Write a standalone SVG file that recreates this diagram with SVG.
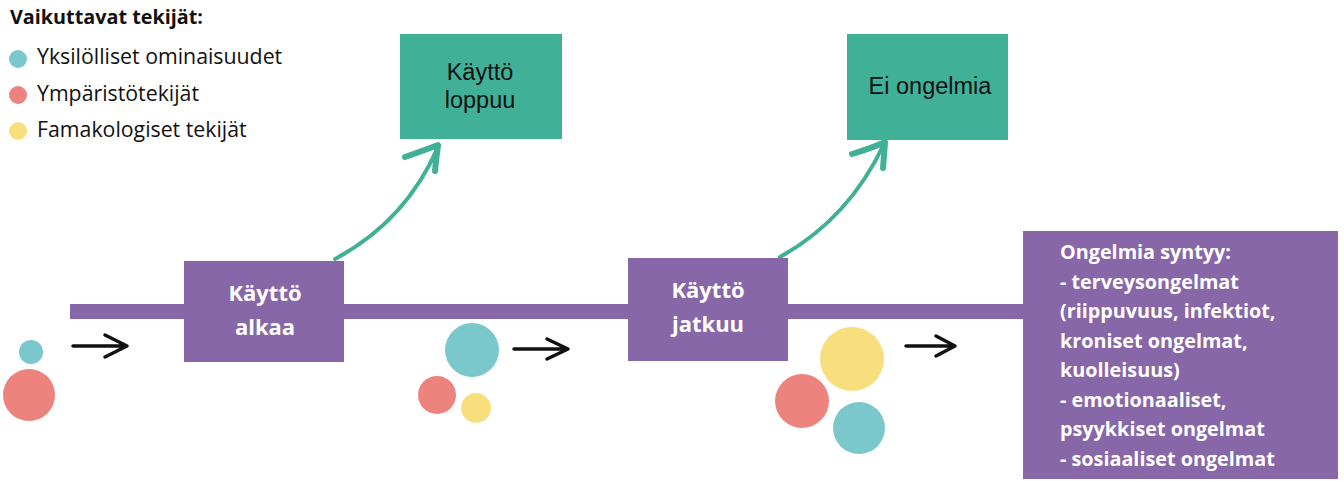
<svg xmlns="http://www.w3.org/2000/svg" width="1344" height="481" viewBox="0 0 1344 481">
  <defs>
    <style>
      .legend { font-family: "Open Sans", "Liberation Sans", sans-serif; font-size: 21.3px; fill: #111; }
      .title { font-family: "Open Sans", "Liberation Sans", sans-serif; font-size: 19.8px; font-weight: bold; fill: #111; }
      .green { fill: #40B097; }
      .purple { fill: #8867A9; }
      .gtext { font-family: "Liberation Sans", Arial, sans-serif; font-size: 23.5px; fill: #111; text-anchor: middle; }
      .ptext { font-family: "Open Sans", "Liberation Sans", sans-serif; font-size: 22px; font-weight: bold; fill: #fff; text-anchor: middle; }
      .btext { font-family: "Open Sans", "Liberation Sans", sans-serif; font-size: 19.8px; font-weight: bold; fill: #fff; }
      .teal { fill: #7AC8CC; }
      .red { fill: #EC837E; }
      .yellow { fill: #F8DF7E; }
      .curve { fill: none; stroke: #40B097; stroke-width: 4; stroke-linecap: round; }
      .head { fill: none; stroke: #40B097; stroke-width: 6; stroke-linecap: round; stroke-linejoin: round; }
      .blk { fill: none; stroke: #111; stroke-width: 3.5; stroke-linecap: round; stroke-linejoin: round; }
    </style>
  </defs>

  <!-- legend -->
  <g id="legend">
    <text class="title" x="10" y="24">Vaikuttavat tekijät:</text>
    <circle class="teal" cx="18" cy="59" r="9"/>
    <text class="legend" x="37" y="64">Yksilölliset ominaisuudet</text>
    <circle class="red" cx="18" cy="95" r="9"/>
    <text class="legend" x="37" y="101">Ympäristötekijät</text>
    <circle class="yellow" cx="18" cy="131" r="9"/>
    <text class="legend" x="37" y="137">Famakologiset tekijät</text>
  </g>

  <!-- connectors -->
  <g id="connectors">
    <rect class="purple" x="70" y="304" width="960" height="15"/>
    <path class="curve" d="M335 259 C 380 235, 415 200, 438 147"/>
    <path class="head" d="M405 157 Q 425 150, 438 145 Q 436 160, 435 171"/>
    <path class="curve" d="M780 257 C 825 232, 860 195, 884 144"/>
    <path class="head" d="M852 154 Q 872 148, 885 142 Q 884 156, 883 168"/>
    <path class="blk" d="M73 346 L 127 346 M 105 335 L 127 346 L 105 357"/>
    <path class="blk" d="M514 349 L 568 349 M 547 339 L 568 349 L 547 359"/>
    <path class="blk" d="M906 346 L 955 346 M 936 336 L 955 346 L 936 356"/>
  </g>

  <!-- start -->
  <g id="start">
    <rect class="purple" x="184" y="261" width="160" height="101"/>
    <text class="ptext" x="265" y="301">Käyttö</text>
    <text class="ptext" x="265" y="335">alkaa</text>
  </g>

  <!-- continue -->
  <g id="continue">
    <rect class="purple" x="628" y="258" width="160" height="103"/>
    <text class="ptext" x="708" y="298">Käyttö</text>
    <text class="ptext" x="708" y="332">jatkuu</text>
  </g>

  <!-- stop -->
  <g id="stop">
    <rect class="green" x="400" y="34" width="162" height="105"/>
    <text class="gtext" x="480" y="80">Käyttö</text>
    <text class="gtext" x="480" y="108">loppuu</text>
  </g>

  <!-- no problems -->
  <g id="no-problems">
    <rect class="green" x="847" y="34" width="161" height="106"/>
    <text class="gtext" x="930" y="94">Ei ongelmia</text>
  </g>

  <!-- problems -->
  <g id="problems">
    <rect class="purple" x="1023" y="231" width="315" height="248"/>
    <text class="btext" x="1060" y="259">Ongelmia syntyy:</text>
    <text class="btext" x="1060" y="289">- terveysongelmat</text>
    <text class="btext" x="1060" y="318">(riippuvuus, infektiot,</text>
    <text class="btext" x="1060" y="348">kroniset ongelmat,</text>
    <text class="btext" x="1060" y="377">kuolleisuus)</text>
    <text class="btext" x="1060" y="407">- emotionaaliset,</text>
    <text class="btext" x="1060" y="436">psyykkiset ongelmat</text>
    <text class="btext" x="1060" y="466">- sosiaaliset ongelmat</text>
  </g>

  <!-- factor circles -->
  <g id="factors-1">
    <circle class="teal" cx="31" cy="352" r="12"/>
    <circle class="red" cx="29" cy="395" r="26"/>
  </g>
  <g id="factors-2">
    <circle class="teal" cx="472" cy="350" r="27"/>
    <circle class="red" cx="437" cy="395" r="19"/>
    <circle class="yellow" cx="476" cy="408" r="15"/>
  </g>
  <g id="factors-3">
    <circle class="yellow" cx="852" cy="359" r="32"/>
    <circle class="red" cx="802" cy="401" r="27"/>
    <circle class="teal" cx="859" cy="428" r="26"/>
  </g>
</svg>
